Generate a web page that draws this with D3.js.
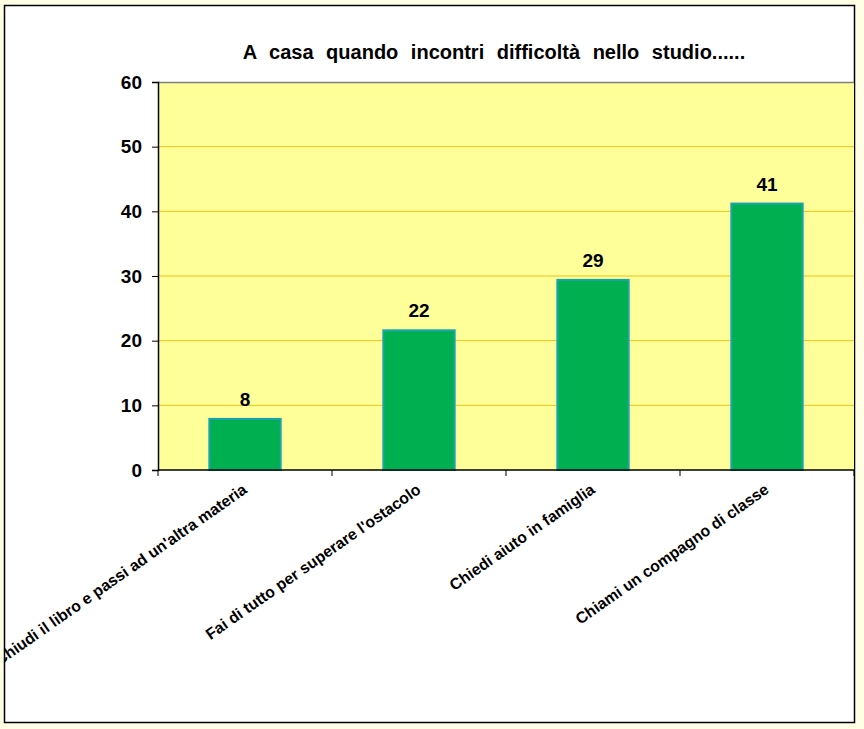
<!DOCTYPE html>
<html>
<head>
<meta charset="utf-8">
<script src="https://cdn.jsdelivr.net/npm/d3@7"></script>
<style>
  body { margin: 0; background: #FFFFE6; }
  text { font-family: "Liberation Sans", Arial, sans-serif; font-weight: bold; }
</style>
</head>
<body>
<div id="chart"></div>
<script>
// Chart data
const categories = [
  "Chiudi il libro e passi ad un'altra materia",
  "Fai di tutto per superare l'ostacolo",
  "Chiedi aiuto in famiglia",
  "Chiami un compagno di classe"
];
const values = [7.9, 21.6, 29.4, 41.2];
const yTicks = [0, 10, 20, 30, 40, 50, 60];
const title = "A casa quando incontri difficoltà nello studio......";

const width = 864;
const height = 729;
const margin = { top: 82, right: 10, bottom: 259, left: 158 };
const innerWidth = width - margin.left - margin.right;
const innerHeight = height - margin.top - margin.bottom;

const svg = d3.select("#chart")
  .append("svg")
  .attr("width", width)
  .attr("height", height);

// Chart area clip (labels get cut at the border like the original)
svg.append("clipPath")
  .attr("id", "chart-clip")
  .append("rect")
  .attr("x", 5)
  .attr("y", 6)
  .attr("width", 849)
  .attr("height", 716);

// Chart border (white area)
svg.append("rect")
  .attr("x", 4.5)
  .attr("y", 5.5)
  .attr("width", 850)
  .attr("height", 717)
  .attr("fill", "#ffffff")
  .attr("stroke", "#000000")
  .attr("stroke-width", 1.5);

const g = svg.append("g")
  .attr("transform", `translate(${margin.left},${margin.top})`);

// Scales
const xScale = d3.scaleBand()
  .domain(categories)
  .range([0, innerWidth])
  .paddingInner(0.59)
  .paddingOuter(0.295);

const yScale = d3.scaleLinear()
  .domain([0, 60])
  .range([innerHeight, 0]);

// Plot area
g.append("rect")
  .attr("width", innerWidth)
  .attr("height", innerHeight)
  .attr("fill", "#FFFF99");

// Gridlines
g.selectAll(".grid")
  .data(yTicks.filter(d => d > 0 && d < 60))
  .enter()
  .append("line")
  .attr("x1", 0)
  .attr("x2", innerWidth)
  .attr("y1", d => yScale(d))
  .attr("y2", d => yScale(d))
  .attr("stroke", "#E6C31A")
  .attr("stroke-width", 1);

// Top border of plot area
g.append("line")
  .attr("x1", 0)
  .attr("x2", innerWidth)
  .attr("y1", 0.5)
  .attr("y2", 0.5)
  .attr("stroke", "#808080")
  .attr("stroke-width", 1.5);

// Bars
g.selectAll(".bar")
  .data(values)
  .enter()
  .append("rect")
  .attr("class", "bar")
  .attr("x", (d, i) => xScale(categories[i]))
  .attr("y", d => yScale(d))
  .attr("width", xScale.bandwidth())
  .attr("height", d => innerHeight - yScale(d))
  .attr("fill", "#00B050")
  .attr("stroke", "#1BA3B0")
  .attr("stroke-width", 2);

// Value labels
g.selectAll(".value-label")
  .data(values)
  .enter()
  .append("text")
  .attr("x", (d, i) => xScale(categories[i]) + xScale.bandwidth() / 2)
  .attr("y", d => yScale(d) - 13)
  .attr("text-anchor", "middle")
  .attr("font-size", "19px")
  .attr("fill", "#000")
  .text(d => d3.format(".0f")(d));

// Y axis
const yAxis = g.append("g")
  .call(d3.axisLeft(yScale).tickValues(yTicks).tickSize(6).tickPadding(10));
yAxis.select(".domain").attr("stroke", "#000").attr("stroke-width", 1.5);
yAxis.selectAll(".tick line").attr("stroke", "#000");
yAxis.selectAll(".tick text")
  .attr("font-size", "19px")
  .attr("font-family", "Liberation Sans, Arial, sans-serif")
  .attr("font-weight", "bold")
  .attr("fill", "#000");

// X axis line with category boundary ticks
const boundaries = d3.range(categories.length + 1).map(i => i * xScale.step());
g.append("line")
  .attr("x1", 0)
  .attr("x2", innerWidth)
  .attr("y1", innerHeight)
  .attr("y2", innerHeight)
  .attr("stroke", "#000")
  .attr("stroke-width", 1.5);
g.selectAll(".xtick")
  .data(boundaries)
  .enter()
  .append("line")
  .attr("x1", d => d)
  .attr("x2", d => d)
  .attr("y1", innerHeight)
  .attr("y2", innerHeight + 6)
  .attr("stroke", "#000");

// X labels (rotated)
svg.append("g")
  .attr("clip-path", "url(#chart-clip)")
  .selectAll(".x-label")
  .data(categories)
  .enter()
  .append("text")
  .attr("text-anchor", "end")
  .attr("font-size", "15.8px")
  .attr("fill", "#000")
  .attr("transform", d => {
    const cx = margin.left + xScale(d) + xScale.bandwidth() / 2 + 3;
    return `translate(${cx},${margin.top + innerHeight + 22}) rotate(-35)`;
  })
  .text(d => d);

// Title
svg.append("text")
  .attr("x", 494)
  .attr("y", 59)
  .attr("text-anchor", "middle")
  .attr("font-size", "20px")
  .attr("word-spacing", "7px")
  .attr("fill", "#000")
  .text(title);
</script>
</body>
</html>
